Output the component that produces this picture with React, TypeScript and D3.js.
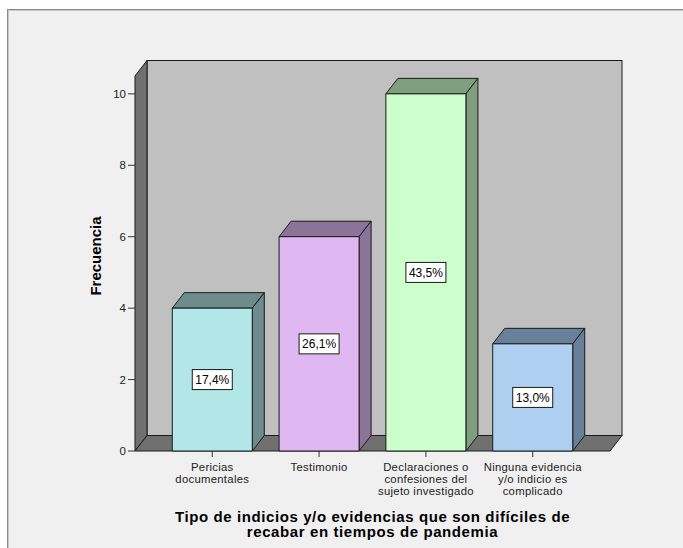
import React, { useEffect } from "react";
import * as d3 from "d3";

const categories = [
  ["Pericias", "documentales"],
  ["Testimonio"],
  ["Declaraciones o", "confesiones del", "sujeto investigado"],
  ["Ninguna evidencia", "y/o indicio es", "complicado"],
];
const frequencies = [4, 6, 10, 3];
const percentLabels = ["17,4%", "26,1%", "43,5%", "13,0%"];
const yTicks = [0, 2, 4, 6, 8, 10];
const frontColors = ["#b3e6e6", "#dfb8f2", "#ccffcc", "#aecff0"];
const sideColors = ["#6f8c8c", "#8b7399", "#7f9f7f", "#68809a"];
const xTitle = ["Tipo de indicios y/o evidencias que son difíciles de", "recabar en tiempos de pandemia"];
const yTitle = "Frecuencia";

const W = 683;
const H = 548;
const FONT = "'Liberation Sans', Arial, sans-serif";

export default function App() {
  useEffect(() => {
    document.body.style.margin = "0";
  }, []);

  const left = 135;
  const right = 610;
  const yBottom = 451;
  const yTop = 76;
  const dx = 12;
  const dy = 15.5;

  const x = d3
    .scaleBand<number>()
    .domain(d3.range(categories.length))
    .range([left, right])
    .paddingInner(0.251)
    .paddingOuter(0.349);
  const y = d3.scaleLinear().domain([0, 10.5]).range([yBottom, yTop]);
  const bw = x.bandwidth();

  const poly = (pts: [number, number][]) => "M" + pts.map((p) => p.join(",")).join("L") + "Z";

  return (
    <svg width={W} height={H} style={{ display: "block", background: "#ffffff" }} fontFamily={FONT}>
      <rect x={7.5} y={9.5} width={W} height={H} fill="#f0f0f0" stroke="#8a8a8a" strokeWidth={1} />
      <line x1={8.5} y1={10.5} x2={W} y2={10.5} stroke="#c8c8c8" />
      <line x1={8.5} y1={10.5} x2={8.5} y2={H} stroke="#c8c8c8" />

      {/* back wall */}
      <rect
        x={left + dx}
        y={y(10.5) - dy}
        width={right - left}
        height={yBottom - y(10.5)}
        fill="#c0c0c0"
        stroke="#1a1a1a"
        strokeWidth={1}
      />
      {/* left wall */}
      <path
        d={poly([
          [left, y(10.5)],
          [left + dx, y(10.5) - dy],
          [left + dx, yBottom - dy],
          [left, yBottom],
        ])}
        fill="#707070"
        stroke="#1a1a1a"
        strokeWidth={1}
      />
      {/* floor */}
      <path
        d={poly([
          [left, yBottom],
          [right, yBottom],
          [right + dx, yBottom - dy],
          [left + dx, yBottom - dy],
        ])}
        fill="#707070"
        stroke="#1a1a1a"
        strokeWidth={1}
      />

      {/* y axis ticks */}
      {yTicks.map((t) => (
        <g key={t}>
          <line x1={left - 7} x2={left} y1={y(t)} y2={y(t)} stroke="#333" strokeWidth={1} />
          <text x={left - 9} y={y(t)} dy="0.35em" textAnchor="end" fontSize={11.5} fill="#222">
            {t}
          </text>
        </g>
      ))}

      {/* bars */}
      {frequencies.map((v, i) => {
        const x0 = x(i) as number;
        const x1 = x0 + bw;
        const yt = y(v);
        return (
          <g key={i} stroke="#1a1a1a" strokeWidth={1} strokeLinejoin="round">
            <path
              d={poly([
                [x0, yt],
                [x0 + dx, yt - dy],
                [x1 + dx, yt - dy],
                [x1, yt],
              ])}
              fill={sideColors[i]}
            />
            <path
              d={poly([
                [x1, yt],
                [x1 + dx, yt - dy],
                [x1 + dx, yBottom - dy],
                [x1, yBottom],
              ])}
              fill={sideColors[i]}
            />
            <rect x={x0} y={yt} width={bw} height={yBottom - yt} fill={frontColors[i]} />
          </g>
        );
      })}

      {/* value labels */}
      {frequencies.map((v, i) => {
        const cx = (x(i) as number) + bw / 2;
        const cy = y(v / 2);
        return (
          <g key={"l" + i}>
            <rect x={cx - 20} y={cy - 10} width={40} height={20} fill="#ffffff" stroke="#1a1a1a" strokeWidth={1} />
            <text x={cx} y={cy} dy="0.36em" textAnchor="middle" fontSize={12} fill="#000">
              {percentLabels[i]}
            </text>
          </g>
        );
      })}

      {/* x ticks and category labels */}
      {categories.map((lines, i) => {
        const cx = (x(i) as number) + bw / 2;
        return (
          <g key={"c" + i}>
            <line x1={cx} x2={cx} y1={yBottom} y2={yBottom + 6} stroke="#333" />
            <text textAnchor="middle" fontSize={11.3} letterSpacing={0.3} fill="#222">
              {lines.map((ln, j) => (
                <tspan key={j} x={cx} y={470.5 + j * 12}>
                  {ln}
                </tspan>
              ))}
            </text>
          </g>
        );
      })}

      {/* axis titles */}
      <text textAnchor="middle" fontSize={15} letterSpacing={0.6} fontWeight="bold" fill="#000">
        {xTitle.map((ln, j) => (
          <tspan key={j} x={(left + right) / 2} y={521.5 + j * 15.5}>
            {ln}
          </tspan>
        ))}
      </text>
      <text
        transform={`translate(101, 256) rotate(-90)`}
        textAnchor="middle"
        fontSize={15}
        fontWeight="bold"
        fill="#000"
      >
        {yTitle}
      </text>
    </svg>
  );
}
